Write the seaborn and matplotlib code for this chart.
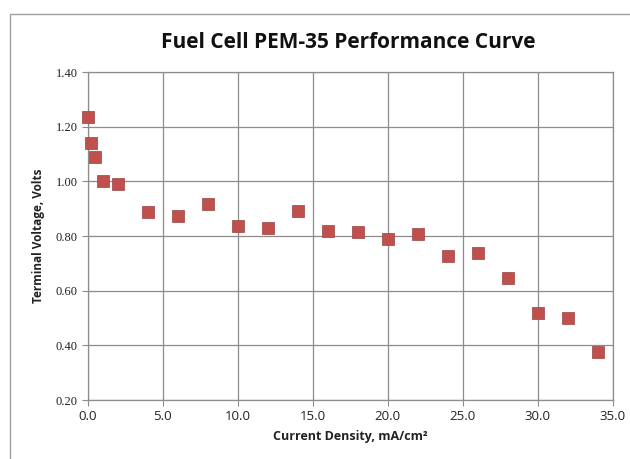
import pandas as pd
import matplotlib.pyplot as plt
import seaborn as sns
from matplotlib.patches import Rectangle

# Measured performance points
current_density = [0, 0.25, 0.5, 1, 2, 4, 6, 8, 10, 12, 14, 16, 18, 20, 22, 24, 26, 28, 30, 32, 34]
voltage = [1.236, 1.139, 1.090, 1.002, 0.989, 0.889, 0.874, 0.917, 0.838, 0.828, 0.891,
           0.818, 0.816, 0.788, 0.807, 0.726, 0.739, 0.645, 0.519, 0.499, 0.377]
x_ticks = [0, 5, 10, 15, 20, 25, 30, 35]
y_ticks = [0.20, 0.40, 0.60, 0.80, 1.00, 1.20, 1.40]

df = pd.DataFrame({'current': current_density, 'voltage': voltage})

sns.set_style('white')
plt.rcParams['font.family'] = ['Open Sans', 'DejaVu Sans']

fig = plt.figure(figsize=(6.3, 4.59), dpi=100)
ax = fig.add_axes([0.139, 0.1285, 0.834, 0.7145])

# chart area border
fig.patches.append(Rectangle((10 / 630, -0.1), 1.2, 1 - 14 / 459 + 0.1,
                             transform=fig.transFigure, fill=False,
                             edgecolor='#a0a0a0', linewidth=1.0))

sns.scatterplot(x='current', y='voltage', data=df, marker='s', s=70,
                color='#c0504d', edgecolor='#9a4240', linewidth=0.5, ax=ax,
                zorder=3, clip_on=False)

ax.set_xlim(0, 35)
ax.set_ylim(0.20, 1.40)
ax.set_xticks(x_ticks)
ax.set_yticks(y_ticks)
ax.set_xticklabels([f'{v:.1f}' for v in x_ticks], fontsize=9.5, color='#222222')
ax.set_yticklabels([f'{v:.2f}' for v in y_ticks], fontsize=9,
                   family=['Liberation Serif'], color='#222222')
ax.grid(True, color='#8c8c8c', linewidth=0.9)
for side in ['left', 'bottom', 'top', 'right']:
    ax.spines[side].set_color('#8c8c8c')
    ax.spines[side].set_linewidth(0.9)
ax.tick_params(axis='both', length=4, color='#8c8c8c', direction='out', pad=3)
ax.tick_params(axis='x', bottom=True)
ax.tick_params(axis='y', left=True)

ax.set_xlabel('Current Density, mA/cm²', fontsize=9, fontweight='bold', color='#222222', labelpad=5)
ax.set_ylabel('Terminal Voltage, Volts', fontsize=8.5, fontweight='bold', color='#222222', labelpad=8)
fig.text(0.553, 1 - 42 / 459, 'Fuel Cell PEM-35 Performance Curve', fontsize=15,
         fontweight='bold', ha='center', va='center', color='#111111')

fig.savefig('out.png', dpi=100)
